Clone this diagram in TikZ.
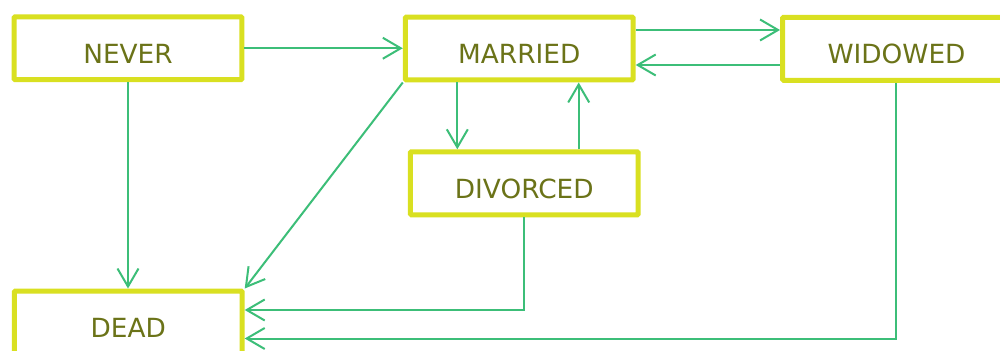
\documentclass[tikz,border=0pt]{standalone}
\usepackage{fontspec}
\setmainfont{DejaVu Sans}
\usetikzlibrary{arrows.meta}
\definecolor{boxline}{RGB}{217,224,33}
\definecolor{boxtext}{RGB}{107,115,24}
\definecolor{arrowc}{RGB}{60,190,120}
\tikzset{
  state/.style={draw=boxline, line width=0.1cm, fill=white, rounded corners=0.6pt,
    minimum width=4.56cm, minimum height=1.26cm, inner sep=0pt,
    text height=0.606cm, text depth=0pt, text=boxtext,
    font=\fontsize{15pt}{18pt}\selectfont},
  conn/.style={draw=arrowc, line width=0.04cm,
    -{Straight Barb[length=0.36cm,width=0.42cm,line width=0.04cm]}}
}
\begin{document}
\begin{tikzpicture}[x=0.02cm,y=-0.02cm]
\clip (0,0) rectangle (1000,351);
\fill[white] (0,0) rectangle (1000,351);
\node[state] (never) at (128,48.25) {NEVER};
\node[state] (married) at (519.25,48.5) {MARRIED};
\node[state] (widowed) at (896.5,48.8) {WIDOWED};
\node[state] (divorced) at (524.25,183.3) {DIVORCED};
\node[state] (dead) at (128.25,322.5) {DEAD};

\draw[conn] (never.east) -- (never.east -| married.west);
\draw[conn] (married.east |- 0,30) -- (widowed.west |- 0,30);
\draw[conn] (widowed.west |- 0,65) -- (married.east |- 0,65);
\draw[conn] (never.south) -- (never.south |- dead.north);
\draw[conn] (married.south -| 457.3,0) -- (divorced.north -| 457.3,0);
\draw[conn] (divorced.north -| 578.7,0) -- (married.south -| 578.7,0);
\draw[conn] (married.south west) -- (dead.north east);
\draw[conn] (divorced.south) |- (dead.east |- 0,310);
\draw[conn] (widowed.south -| 896,0) |- (dead.east |- 0,338.5);
\end{tikzpicture}
\end{document}
